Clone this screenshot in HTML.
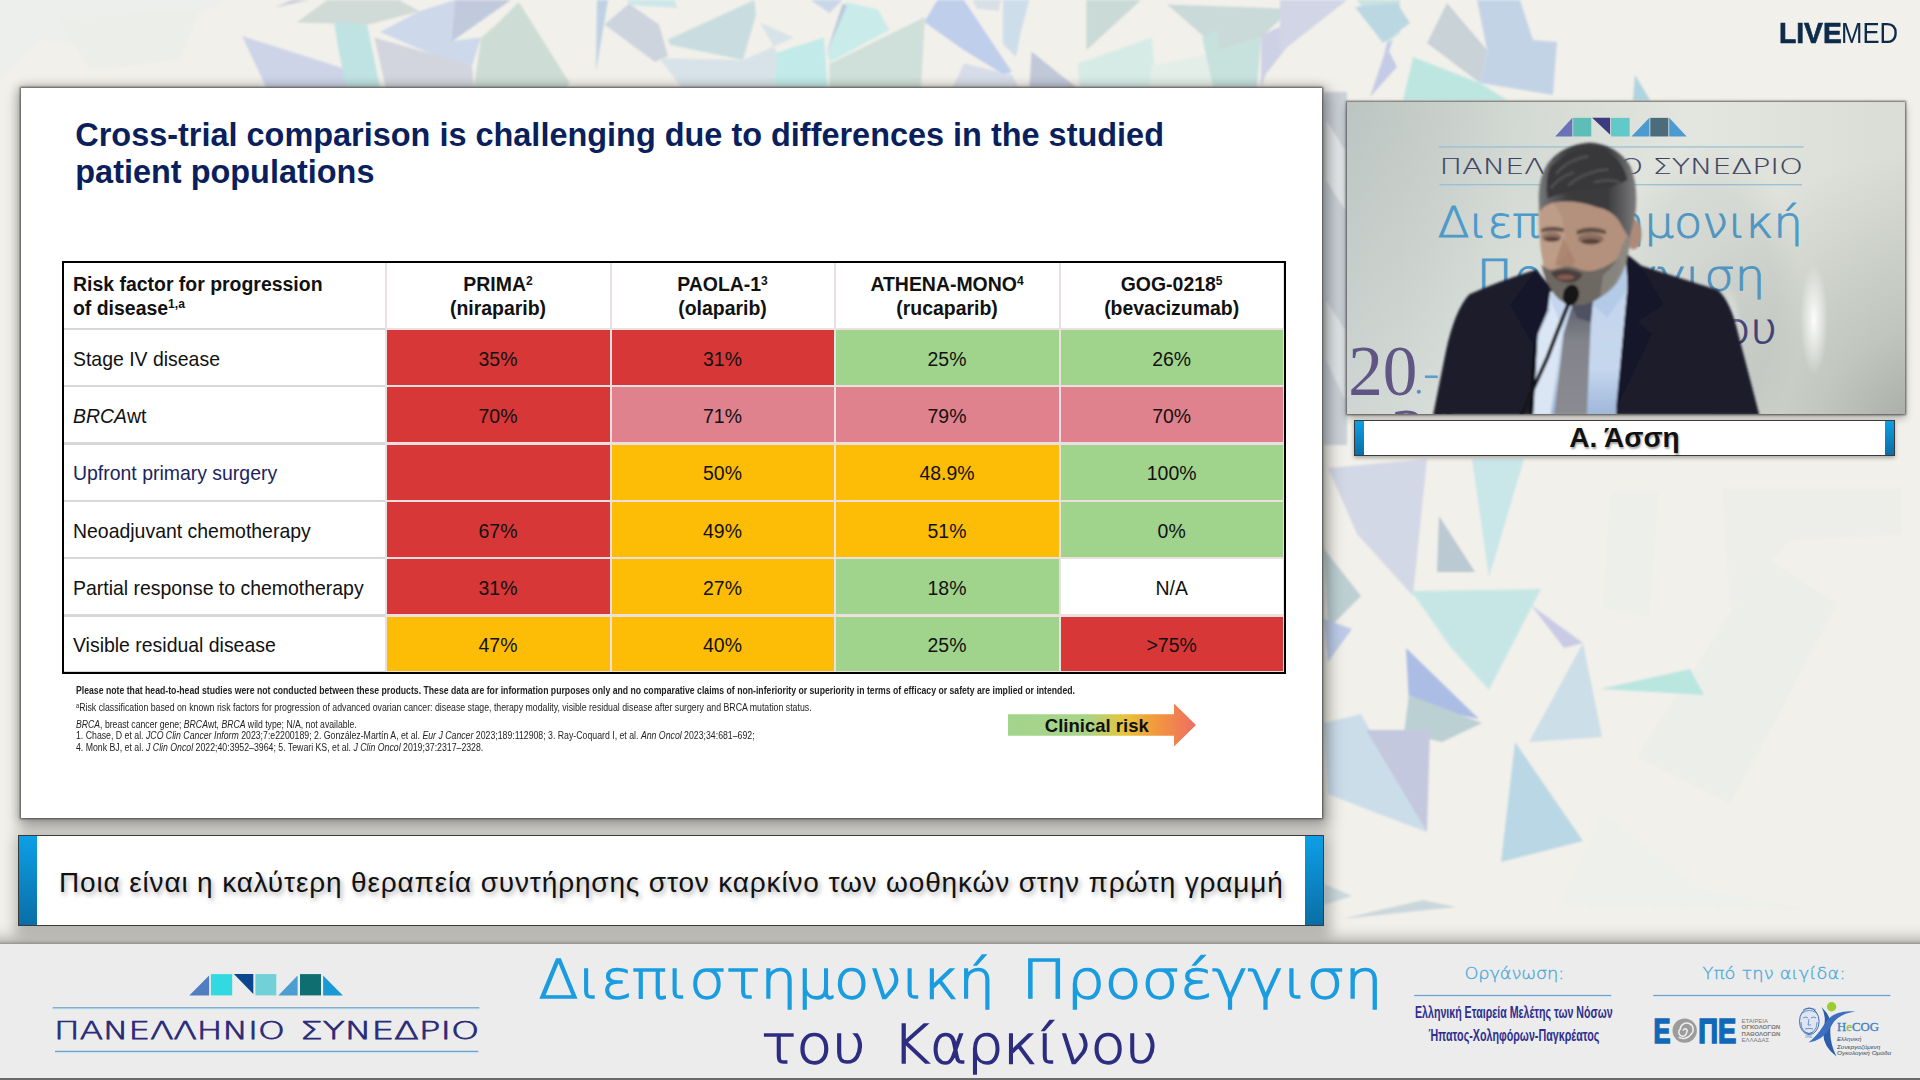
<!DOCTYPE html>
<html lang="el">
<head>
<meta charset="utf-8">
<title>LiveMed</title>
<style>
*{box-sizing:border-box;margin:0;padding:0}
html,body{width:1920px;height:1080px;overflow:hidden}
body{position:relative;background:#f2f0ea;font-family:"Liberation Sans",sans-serif;color:#000}
.abs{position:absolute}
#bg{position:absolute;left:0;top:0;width:1920px;height:1080px}
#slide{position:absolute;left:20.7px;top:88px;width:1301px;height:730px;background:#fff;box-shadow:0 0 2px 1px rgba(40,40,40,.7),0 0 9px 2px rgba(0,0,0,.2),3px 8px 14px 5px rgba(0,0,0,.28)}
#slide>*{margin-left:-.7px}
#fnotes{position:absolute;left:0;top:0;width:100%;height:100%}
#stitle{position:absolute;left:55.3px;top:29.4px;font-weight:bold;font-size:32.45px;line-height:37px;color:#0a1f5c;white-space:nowrap}
#tbl{position:absolute;left:42px;top:173px;width:1224px;height:413px;border:2.5px solid #000;background:linear-gradient(90deg,#d8d8d8 0,#d8d8d8 321.5px,#ecdfdf 321.5px)}
.c{position:absolute;display:flex;align-items:center;justify-content:center;padding-top:3.6px;font-size:19.45px;color:#111;background:#fff;white-space:nowrap}
.l{justify-content:flex-start;padding-left:9px}
.h{font-weight:bold;text-align:center;line-height:23.7px;padding-top:3.4px}
.hl{text-align:left}
.R{background:#d73737}.P{background:#e0818e}.Y{background:#fdbd07}.G{background:#a0d48c}
sup{font-size:62%;line-height:0;vertical-align:baseline;position:relative;top:-.55em}
.fn{position:absolute;left:56px;font-size:10px;line-height:11px;white-space:nowrap;transform-origin:0 50%;color:#222}
#tbar{position:absolute;left:18px;top:835px;width:1306px;height:91px;background:#fff;border:1px solid #3a3a3a;box-shadow:2px 6px 12px 5px rgba(0,0,0,.24)}
#tbar .bl{position:absolute;left:0;top:0;width:18px;height:89px;background:linear-gradient(#0d9fe6,#0a6ea6)}
#tbar .br{position:absolute;right:0;top:0;width:18px;height:89px;background:linear-gradient(#0d9fe6,#0a6ea6)}
#tbar .t{position:absolute;left:40px;top:29.6px;font-size:28px;line-height:34px;letter-spacing:.84px;white-space:nowrap;color:#111;text-shadow:2px 3px 5px rgba(0,0,0,.33)}
#footer{position:absolute;left:-30px;top:944px;width:1980px;height:136px;background:#ececec;box-shadow:0 -1px 3px rgba(0,0,0,.25),0 -5px 14px rgba(0,0,0,.3);border-bottom:2px solid #6a6a6a}
#video{position:absolute;left:1347px;top:102px;width:557.5px;height:312px;box-shadow:0 0 2px 1px rgba(40,40,40,.7),0 4px 8px rgba(0,0,0,.3);overflow:hidden;background:#e6eae6}
#nbar{position:absolute;left:1354px;top:420px;width:541px;height:36px;background:#fff;border:1px solid #3a3a3a;box-shadow:0 2px 4px rgba(0,0,0,.3)}
#nbar .bl{position:absolute;left:0;top:0;width:9px;height:34px;background:linear-gradient(#0d9fe6,#0a6ea6)}
#nbar .br{position:absolute;right:0;top:0;width:9px;height:34px;background:linear-gradient(#0d9fe6,#0a6ea6)}
#nbar .t{position:absolute;left:0;width:100%;top:1.5px;text-align:center;font-weight:bold;font-size:28px;line-height:30px;color:#111;text-shadow:1px 2px 2px rgba(0,0,0,.35)}
#livemed{position:absolute;left:0;top:17.3px;font-size:29.4px;line-height:32px;color:#0d2b4a;white-space:nowrap}
#livemed b{position:absolute;left:1779.4px;top:0;font-weight:bold;-webkit-text-stroke:.7px #0d2b4a;transform:scaleX(.96);transform-origin:0 50%}
#livemed span{position:absolute;left:1840.6px;top:0;transform:scaleX(.874);transform-origin:0 50%}
</style>
</head>
<body>
<svg id="bg" viewBox="0 0 1920 1080">
<defs><filter id="bgb" x="-5%" y="-5%" width="110%" height="110%"><feGaussianBlur stdDeviation="1.2"/></filter></defs>
<g filter="url(#bgb)" opacity=".9">
<polygon points="1611,493 1658,493 1649.5,616 1602.6,608" fill="#ecefea"/>
<polygon points="1722,488.5 1901,488.5 1901,535 1790,540 1730,608" fill="#ededea"/>
<polygon points="1700.6,659 1764.5,556.7 1837,603.6 1777,718.6 1730,803.8 1636.7,757" fill="#eceeea"/>
<polygon points="1602.6,812 1700.6,889 1815.7,910 1560,906" fill="#edf0ec"/>
<polygon points="0,0 230,0 120,50 40,40 0,80" fill="#ecefec"/>
<polygon points="60,20 200,10 180,60 90,70" fill="#eceeea"/>
<polygon points="242,36 266,87 380,87 341,67.5" fill="#c9d2e8"/>
<polygon points="296.6,22.5 327.5,0 399,0 419.4,11.3 369,24.4" fill="#cdd8d4"/>
<polygon points="275,7.5 292,0 309,0" fill="#c5ccd8"/>
<polygon points="334,21.6 367,24.4 380,87 346.3,87 338,47" fill="#b9e2e2"/>
<polygon points="380,32 419.4,11.3 455,0 451,41 481,37.5 472,65.6 436,56" fill="#c9d6ec"/>
<polygon points="374.4,37.5 472,65.6 474,87 385.6,87" fill="#cfd3dc"/>
<polygon points="455,0 511,0 451,42" fill="#bcc6dc"/>
<polygon points="518.8,1.9 569.4,82.5 567.5,87 474,87 481.3,37.5 496.3,24.4" fill="#c9dbd3"/>
<polygon points="597,0 608,0 596,71" fill="#b9cfe4"/>
<polygon points="627,0 674,0 677.5,8 629,5" fill="#c9e6ea"/>
<polygon points="604.4,24.4 629,3.8 659,24.4 668,56 655,62" fill="#c9d1dd"/>
<polygon points="668,39.4 754.4,0 756,15 743,60 670,45" fill="#c5dce0"/>
<polygon points="659,58 743,60 794,37.5 760,22.5 777,52.5 777,87 681,87" fill="#d5e2e8"/>
<polygon points="777,52.5 824,37.5 827.5,87 775,87" fill="#bdeae8"/>
<polygon points="810.6,0 842.5,0 829.4,13" fill="#c5d5e8"/>
<polygon points="827.5,54 846,2 878,9.4 889.4,30 830,62" fill="#c5ebea"/>
<polygon points="842.5,3.8 847,5.6 825.6,56" fill="#b5c5dc"/>
<polygon points="829.4,63.8 925,17 921,87 829.4,87" fill="#cbdfd8"/>
<polygon points="963.8,63.4 1012,74.4 1018.4,87 952.8,87" fill="#d5dce8"/>
<polygon points="924.4,21.9 937.5,0 963.8,0 1011.9,72 1003,74 963.8,50" fill="#b9cbec"/>
<polygon points="972.5,0 1001,0 998.8,11 977,8.8" fill="#d5dfe6"/>
<polygon points="1003,0 1029.4,0 1020.6,32.8 1016,57 1003,43.8" fill="#c9dcea"/>
<polygon points="1031.6,51.4 1060,74.4 1076,87 1029.4,87" fill="#bcc5d8"/>
<polygon points="1086.3,0 1141,0 1086.3,50.3" fill="#c5d8d6"/>
<polygon points="1077.5,63.4 1151.9,37.2 1156.3,87 1079.7,87" fill="#d5ebe6"/>
<polygon points="1151.9,65.6 1217.5,52.5 1213,87 1149.7,87" fill="#e3eee8"/>
<polygon points="1167.2,4.4 1291.9,8.8 1261.3,37.2 1219.7,50.3 1202.2,35" fill="#c5d8d8"/>
<polygon points="1202.2,37.2 1217.5,28.4 1219.7,50.3 1261.3,37.2 1256.9,87 1213,87" fill="#c3e0dc"/>
<polygon points="1261.3,35 1340,0 1313.8,13 1265.6,74.4 1261,87" fill="#cacee6"/>
<polygon points="1280,0 1347,0 1280,53" fill="#cfd3e6"/>
<polygon points="1357,0 1400,0 1400,33 1387,43" fill="#c5e0e0"/>
<polygon points="1387,43 1393,40 1377,83" fill="#c0c8e8"/>
<polygon points="1355,7 1397,3 1410,23 1383,43" fill="#b5d5e2"/>
<polygon points="1447,3 1487,50 1480,83 1427,43" fill="#c5cfd6"/>
<polygon points="1477,0 1520,0 1533,40 1557,42 1553,95 1480,83 1487,50" fill="#bfd0e6"/>
<polygon points="1413,57 1480,83 1507,100 1403,100" fill="#b8e6e0"/>
<polygon points="1387,47 1397,67 1370,97 1380,67" fill="#c0c8e6"/>
<polygon points="1635,75 1650,100 1633,100" fill="#a8d0de"/>
<polygon points="1328,468 1427,459 1413,596 1357,534" fill="#d0d6e6"/>
<polygon points="1472,459 1524,459 1489,577" fill="#c5e5e8"/>
<polygon points="1439,516 1475,572 1437,572" fill="#b5c5d0"/>
<polygon points="1411,591 1541,589 1489,690 1451,648" fill="#c2e6e6"/>
<polygon points="1531,605 1583,643 1564,648" fill="#c5c8e4"/>
<polygon points="1583,643 1602,737 1529,742" fill="#c8dde8"/>
<polygon points="1600,689 1690,669 1704,695" fill="#b5e5e0"/>
<polygon points="1406,648 1479,719 1409,704" fill="#a5b8e5"/>
<polygon points="1409,695 1482,723 1442,742 1404,733" fill="#b5cdd0"/>
<polygon points="1324,723 1361,714 1427,832 1376,813 1328,794" fill="#c8dcea"/>
<polygon points="1366,730 1430,730 1427,832" fill="#c0c4de"/>
<polygon points="1515,742 1583,841 1501,862" fill="#b5d5e5"/>
<polygon points="1324,549 1361,596 1328,629" fill="#b8ccd0"/>
<polygon points="1324,619 1352,629 1328,662" fill="#b8c8e8"/>
<polygon points="1342,919 1423,900 1456,907" fill="#c5d5dc"/>
<polygon points="1324,884 1352,896 1324,905" fill="#c5d8dc"/>
<polygon points="1324,92 1347,92 1347,445 1324,445" fill="#c6ced6"/>
<polygon points="1326,120 1345,150 1345,210 1326,180" fill="#e4e8ea"/>
<polygon points="1326,300 1345,330 1345,400 1326,360" fill="#dfe4e8"/>
</g></svg>
<div id="slide">
  <div id="stitle">Cross-trial comparison is challenging due to differences in the studied<br>patient populations</div>
  <div id="tbl">
<div class="c h l hl" style="left:0px;top:0px;width:320.5px;height:64.8px"><span>Risk factor for progression<br>of disease<sup>1,a</sup></span></div>
<div class="c h" style="left:322.5px;top:0px;width:223.0px;height:64.8px"><span>PRIMA<sup>2</sup><br>(niraparib)</span></div>
<div class="c h" style="left:547.5px;top:0px;width:222.0px;height:64.8px"><span>PAOLA-1<sup>3</sup><br>(olaparib)</span></div>
<div class="c h" style="left:771.5px;top:0px;width:223.0px;height:64.8px"><span>ATHENA-MONO<sup>4</sup><br>(rucaparib)</span></div>
<div class="c h" style="left:996.5px;top:0px;width:222.3px;height:64.8px"><span>GOG-0218<sup>5</sup><br>(bevacizumab)</span></div>
<div class="c l" style="left:0px;top:66.8px;width:320.5px;height:55.0px">Stage IV disease</div>
<div class="c R" style="left:322.5px;top:66.8px;width:223.0px;height:55.0px">35%</div>
<div class="c R" style="left:547.5px;top:66.8px;width:222.0px;height:55.0px">31%</div>
<div class="c G" style="left:771.5px;top:66.8px;width:223.0px;height:55.0px">25%</div>
<div class="c G" style="left:996.5px;top:66.8px;width:222.3px;height:55.0px">26%</div>
<div class="c l" style="left:0px;top:124.1px;width:320.5px;height:55.1px"><i>BRCA</i>wt</div>
<div class="c R" style="left:322.5px;top:124.1px;width:223.0px;height:55.1px">70%</div>
<div class="c P" style="left:547.5px;top:124.1px;width:222.0px;height:55.1px">71%</div>
<div class="c P" style="left:771.5px;top:124.1px;width:223.0px;height:55.1px">79%</div>
<div class="c P" style="left:996.5px;top:124.1px;width:222.3px;height:55.1px">70%</div>
<div class="c l" style="left:0px;top:181.5px;width:320.5px;height:55.3px"><span style="color:#1a2560">Upfront primary surgery</span></div>
<div class="c R" style="left:322.5px;top:181.5px;width:223.0px;height:55.3px"></div>
<div class="c Y" style="left:547.5px;top:181.5px;width:222.0px;height:55.3px">50%</div>
<div class="c Y" style="left:771.5px;top:181.5px;width:223.0px;height:55.3px">48.9%</div>
<div class="c G" style="left:996.5px;top:181.5px;width:222.3px;height:55.3px">100%</div>
<div class="c l" style="left:0px;top:238.8px;width:320.5px;height:55.0px">Neoadjuvant chemotherapy</div>
<div class="c R" style="left:322.5px;top:238.8px;width:223.0px;height:55.0px">67%</div>
<div class="c Y" style="left:547.5px;top:238.8px;width:222.0px;height:55.0px">49%</div>
<div class="c Y" style="left:771.5px;top:238.8px;width:223.0px;height:55.0px">51%</div>
<div class="c G" style="left:996.5px;top:238.8px;width:222.3px;height:55.0px">0%</div>
<div class="c l" style="left:0px;top:296.1px;width:320.5px;height:55.4px">Partial response to chemotherapy</div>
<div class="c R" style="left:322.5px;top:296.1px;width:223.0px;height:55.4px">31%</div>
<div class="c Y" style="left:547.5px;top:296.1px;width:222.0px;height:55.4px">27%</div>
<div class="c G" style="left:771.5px;top:296.1px;width:223.0px;height:55.4px">18%</div>
<div class="c " style="left:996.5px;top:296.1px;width:222.3px;height:55.4px">N/A</div>
<div class="c l" style="left:0px;top:353.5px;width:320.5px;height:54.3px">Visible residual disease</div>
<div class="c Y" style="left:322.5px;top:353.5px;width:223.0px;height:54.3px">47%</div>
<div class="c Y" style="left:547.5px;top:353.5px;width:222.0px;height:54.3px">40%</div>
<div class="c G" style="left:771.5px;top:353.5px;width:223.0px;height:54.3px">25%</div>
<div class="c R" style="left:996.5px;top:353.5px;width:222.3px;height:54.3px">&gt;75%</div>  </div>
  <div id="fnotes">
    <div class="fn" style="top:597px;font-weight:bold;transform:scaleX(.8685)">Please note that head-to-head studies were not conducted between these products. These data are for information purposes only and no comparative claims of non-inferiority or superiority in terms of efficacy or safety are implied or intended.</div>
    <div class="fn" style="top:611.6px;transform:scaleX(.8757)"><span style="font-size:6.5px;vertical-align:3px">a</span>Risk classification based on known risk factors for progression of advanced ovarian cancer: disease stage, therapy modality, visible residual disease after surgery and BRCA mutation status.</div>
    <div class="fn" style="top:630.5px;transform:scaleX(.866)"><i>BRCA</i>, breast cancer gene; <i>BRCA</i>wt, <i>BRCA</i> wild type; N/A, not available.</div>
    <div class="fn" style="top:642px;transform:scaleX(.874)">1. Chase, D et al. <i>JCO Clin Cancer Inform</i> 2023;7:e2200189; 2. González-Martín A, et al. <i>Eur J Cancer</i> 2023;189:112908; 3. Ray-Coquard I, et al. <i>Ann Oncol</i> 2023;34:681–692;</div>
    <div class="fn" style="top:653.5px;transform:scaleX(.8746)">4. Monk BJ, et al. <i>J Clin Oncol</i> 2022;40:3952–3964; 5. Tewari KS, et al. <i>J Clin Oncol</i> 2019;37:2317–2328.</div>
    <svg class="abs" style="left:980px;top:610px" width="210" height="56" viewBox="980 610 210 56">
      <defs><linearGradient id="ag" x1="0" x2="1" y1="0" y2="0"><stop offset="0" stop-color="#a3d48d"/><stop offset=".42" stop-color="#a8d486"/><stop offset=".62" stop-color="#e6c53a"/><stop offset=".78" stop-color="#f29a3c"/><stop offset="1" stop-color="#ee6d63"/></linearGradient></defs>
      <polygon points="988,626.2 1154,626.2 1154,615.5 1176,637 1154,658.4 1154,647.8 988,647.8" fill="url(#ag)"/>
      <text x="1076.8" y="643.6" text-anchor="middle" font-family="Liberation Sans, sans-serif" font-weight="bold" font-size="18.5" fill="#111">Clinical risk</text>
    </svg>
  </div>
</div>
<div id="video">
<svg width="558" height="314" viewBox="0 0 1919 1080" preserveAspectRatio="none" style="position:absolute;left:0;top:-1px">
  <defs>
    <linearGradient id="vbg" x1="0" x2="1" y1="0" y2="0"><stop offset="0" stop-color="#d0d7d4"/><stop offset=".3" stop-color="#e0e4de"/><stop offset=".62" stop-color="#e3e6df"/><stop offset="1" stop-color="#d9ddd5"/></linearGradient>
    <radialGradient id="vvg" gradientUnits="userSpaceOnUse" cx="-60" cy="-80" r="1250"><stop offset="0" stop-color="#8a9995" stop-opacity=".32"/><stop offset=".5" stop-color="#8f9c98" stop-opacity=".17"/><stop offset="1" stop-color="#8f9c98" stop-opacity="0"/></radialGradient>
    <radialGradient id="vvg2" gradientUnits="userSpaceOnUse" cx="2000" cy="1180" r="1000"><stop offset="0" stop-color="#6c736f" stop-opacity=".52"/><stop offset=".4" stop-color="#747b77" stop-opacity=".25"/><stop offset="1" stop-color="#747b77" stop-opacity="0"/></radialGradient>
    <radialGradient id="vsh" cx=".5" cy=".5" r=".5"><stop offset="0" stop-color="#6a7478" stop-opacity=".16"/><stop offset=".7" stop-color="#6a7478" stop-opacity=".10"/><stop offset="1" stop-color="#6a7478" stop-opacity="0"/></radialGradient>
    <radialGradient id="vhl" cx=".5" cy=".5" r=".5"><stop offset="0" stop-color="#fff" stop-opacity=".95"/><stop offset="1" stop-color="#fff" stop-opacity="0"/></radialGradient>
    <linearGradient id="hairg" x1="0" x2="1" y1="0" y2="0"><stop offset="0" stop-color="#77787a"/><stop offset=".3" stop-color="#3c3c3f"/><stop offset=".7" stop-color="#3a3a3d"/><stop offset="1" stop-color="#7d7d7e"/></linearGradient>
    <linearGradient id="tieg" x1="0" x2="0" y1="0" y2="1"><stop offset="0" stop-color="#5a5d6c"/><stop offset=".35" stop-color="#83848b"/><stop offset="1" stop-color="#8b8c92"/></linearGradient>
    <linearGradient id="shg" x1="0" x2="0" y1="0" y2="1"><stop offset="0" stop-color="#c3d4ec"/><stop offset=".7" stop-color="#c6d8ee"/><stop offset="1" stop-color="#9fb7da"/></linearGradient>
    <filter id="b6"><feGaussianBlur stdDeviation="6"/></filter>
    <filter id="b3"><feGaussianBlur stdDeviation="3"/></filter>
    <filter id="b20"><feGaussianBlur stdDeviation="22"/></filter>
  </defs>
  <rect width="1919" height="1080" fill="url(#vbg)"/>
  <rect width="1919" height="1080" fill="url(#vvg)"/>
  <rect width="1919" height="1080" fill="url(#vvg2)"/>
  
  <!-- logo row -->
  <polygon points="716,122 775,58 775,122" fill="#6a72b8"/>
  <rect x="778" y="58" width="62" height="64" fill="#5cbeb6"/>
  <polygon points="843,58 905,58 905,116" fill="#3b3b82"/>
  <rect x="908" y="58" width="64" height="64" fill="#62c9c9"/>
  <polygon points="978,122 1040,58 1040,122" fill="#4b9bd0"/>
  <rect x="1043" y="58" width="62" height="64" fill="#4c6c7c"/>
  <polygon points="1108,58 1168,122 1108,122" fill="#4b9bd0"/>
  <rect x="315" y="156" width="1255" height="4" fill="#93bdd2"/>
  <rect x="318" y="286" width="1247" height="4" fill="#93bdd2"/>
  <g font-family="'DejaVu Sans Light','DejaVu Sans',sans-serif" font-weight="200">
    <text x="318" y="250" font-size="72" textLength="1250" lengthAdjust="spacingAndGlyphs" fill="#3b4262" stroke="#3b4262" stroke-width=".6">ΠΑΝΕΛΛΗΝΙΟ ΣΥΝΕΔΡΙΟ</text>
    <text x="312" y="467" font-size="144" textLength="1256" lengthAdjust="spacingAndGlyphs" fill="#4c9aca" stroke="#4c9aca" stroke-width="3">Διεπιστημονική</text>
    <text x="445" y="650" font-size="144" textLength="993" lengthAdjust="spacingAndGlyphs" fill="#4c9aca" stroke="#4c9aca" stroke-width="3">Προσέγγιση</text>
    <text x="400" y="832" font-size="144" textLength="1080" lengthAdjust="spacingAndGlyphs" fill="#3c3b74" stroke="#3c3b74" stroke-width="3">του Καρκίνου</text>
  </g>
  <text x="4" y="1010" font-family="'Liberation Serif',serif" font-size="246" fill="#564c7e" textLength="238" lengthAdjust="spacingAndGlyphs" opacity=".92">20</text>
  <circle cx="247" cy="1000" r="7" fill="#5a8fc4"/>
  <rect x="268" y="944" width="44" height="9" fill="#5a9fcc"/>
  <text x="150" y="1229" font-family="'Liberation Serif',serif" font-size="246" fill="#564c7e" opacity=".92">20</text>
  <!-- body shadow on wall -->
  <ellipse cx="1240" cy="700" rx="330" ry="560" fill="url(#vsh)"/>
  <!-- highlight -->
  <ellipse cx="1606" cy="752" rx="48" ry="190" fill="url(#vhl)"/>
  <ellipse cx="1310" cy="780" rx="50" ry="150" fill="url(#vhl)" opacity=".6"/>

  <!-- person -->
  <g filter="url(#b3)">
    <!-- suit -->
    <path d="M296,1080 L340,860 Q370,720 420,665 Q520,620 650,580 L700,640 L960,525 L1010,565 Q1150,610 1275,650 Q1320,690 1345,800 L1418,1080 Z" fill="#1d1e2c"/>
    <!-- shirt -->
    <path d="M690,660 L960,545 L965,640 L950,800 L925,1080 L640,1080 L655,800 Z" fill="url(#shg)"/>
    <path d="M690,660 L700,720 L660,800 L640,1080 L700,1080 L740,780 Z" fill="#dbe6f4"/>
    <!-- collar -->
    <path d="M835,690 L955,560 L962,650 L895,745 Z" fill="#b4cbe8"/>
    <!-- tie -->
    <path d="M775,700 L845,690 L838,770 L825,1080 L712,1080 L745,800 Z" fill="url(#tieg)"/>
    <path d="M775,700 L845,690 L838,760 L790,745 Z" fill="#4e5162"/>
    <!-- lapels -->
    <path d="M650,580 L700,640 L690,720 L640,840 L560,700 Z" fill="#17182a"/>
    <path d="M960,525 L1010,565 L1090,700 L1000,760 L1050,800 L925,1060 L950,800 L965,640 Z" fill="#171829"/>
    <path d="M640,840 L625,1080 L640,1080 L655,800 Z" fill="#11121c"/>
    <!-- neck -->
    <path d="M700,600 L950,540 L960,560 L840,690 L760,700 Z" fill="#a98571"/>
    <!-- ear -->
    <ellipse cx="985" cy="458" rx="28" ry="52" fill="#b08a78"/>
    <!-- face -->
    <path d="M662,330 Q655,430 668,520 Q680,610 720,670 Q760,705 810,700 Q880,680 930,610 Q975,520 980,400 L975,300 Q820,240 680,290 Z" fill="#b3917d"/>
    <path d="M662,330 Q655,430 668,520 Q676,560 690,600 L760,520 L740,400 L700,330 Z" fill="#bf9f8b" opacity=".8"/>
    <!-- eyes/brows -->
    <path d="M668,440 Q700,425 745,438 L745,450 Q700,445 668,452 Z" fill="#4a3a34" opacity=".75"/>
    <path d="M790,445 Q840,425 890,445 L890,458 Q840,445 790,460 Z" fill="#4a3a34" opacity=".75"/>
    <ellipse cx="703" cy="468" rx="34" ry="16" fill="#6a5045" opacity=".55"/>
    <ellipse cx="705" cy="475" rx="26" ry="8" fill="#4a362e" opacity=".8"/>
    <ellipse cx="838" cy="474" rx="44" ry="18" fill="#6a5045" opacity=".55"/>
    <ellipse cx="838" cy="483" rx="32" ry="9" fill="#4a362e" opacity=".8"/>
    <path d="M745,470 L715,560 L760,575 L785,555 Z" fill="#a67f6a" opacity=".7"/>
    <!-- beard -->
    <path d="M668,560 Q690,590 730,575 Q760,560 800,580 Q860,600 935,540 Q945,600 900,650 Q850,700 800,702 Q740,705 710,660 Q680,620 668,560 Z" fill="#6e6862"/>
    <path d="M700,590 Q750,565 810,595 Q800,625 760,625 Q720,622 700,590 Z" fill="#4a403c"/>
    <ellipse cx="752" cy="606" rx="30" ry="9" fill="#8a5a55"/>
    <path d="M880,600 Q930,560 945,500 L975,440 Q975,560 925,630 Q900,660 870,675 Z" fill="#8a8782" opacity=".9"/>
    <!-- hair -->
    <path d="M660,345 Q655,270 690,215 Q740,150 835,143 Q930,150 975,225 Q1005,300 990,400 L972,470 Q955,450 935,410 Q905,372 860,365 Q780,335 705,350 Q678,358 662,380 Z" fill="url(#hairg)"/>
    <path d="M700,225 Q770,160 860,160 Q940,180 965,270 Q920,300 840,300 Q760,305 690,335 Q680,270 700,225 Z" fill="#38383a"/>
    <path d="M720,250 Q760,200 830,190 M760,290 Q820,240 900,235 M700,300 Q730,260 780,245 M850,280 Q900,265 940,280" stroke="#5c5c5c" stroke-width="9" fill="none" opacity=".7"/>
    <!-- mic -->
    <path d="M765,690 Q735,760 690,880 Q640,990 600,1080" stroke="#14141a" stroke-width="13" fill="none" stroke-linecap="round"/>
    <ellipse cx="770" cy="668" rx="27" ry="37" fill="#121216" transform="rotate(15 770 668)"/>
  </g>
</svg>
</div>
<div id="nbar"><div class="bl"></div><div class="br"></div><div class="t">Α. Άσση</div></div>
<div id="livemed"><b>LIVE</b><span>MED</span></div>
<div id="tbar"><div class="bl"></div><div class="br"></div><div class="t">Ποια είναι η καλύτερη θεραπεία συντήρησης στον καρκίνο των ωοθηκών στην πρώτη γραμμή</div></div>
<div id="footer"></div>
<svg class="abs" style="left:0;top:944px" width="1920" height="136" viewBox="0 944 1920 136">
  <!-- left logo -->
  <polygon points="189.3,995.4 209.1,975.6 209.1,995.4" fill="#4f7fc0"/>
  <rect x="210.9" y="974.1" width="21.3" height="21.3" fill="#33d9e0"/>
  <polygon points="233.9,974.1 253.3,974.1 253.3,993.9" fill="#0a4590"/>
  <rect x="255.4" y="974.1" width="20.9" height="21.3" fill="#72d0d8"/>
  <polygon points="278.3,995.4 297.6,975.6 297.6,995.4" fill="#4a9fd0"/>
  <rect x="300" y="974.1" width="21" height="21.3" fill="#0f6f70"/>
  <polygon points="323.1,975.6 342.9,995.4 323.1,995.4" fill="#1a9ad5"/>
  <rect x="52.7" y="1007.2" width="426.6" height="1.4" fill="#6f9fc6"/><rect x="52.7" y="1008.6" width="426.6" height="1" fill="#c5ecfb"/>
  <rect x="55" y="1050.8" width="423.3" height="1.4" fill="#6f9fc6"/><rect x="55" y="1052.2" width="423.3" height="1" fill="#c5ecfb"/>
  <g font-family="'DejaVu Sans Light','DejaVu Sans',sans-serif" font-weight="200">
    <g font-size="24.3" fill="#2a2a78" stroke="#2a2a78" stroke-width=".75">
      <text x="54" y="1039.4" textLength="231" lengthAdjust="spacingAndGlyphs">ΠΑΝΕΛΛΗΝΙΟ</text>
      <text x="300" y="1039.4" textLength="179.3" lengthAdjust="spacingAndGlyphs">ΣΥΝΕΔΡΙΟ</text>
    </g>
    <g font-size="53.4" fill="#1a9ce0" stroke="#1a9ce0" stroke-width="1.4">
      <text x="538.8" y="997.8" textLength="456.2" lengthAdjust="spacingAndGlyphs">Διεπιστημονική</text>
      <text x="1021.6" y="997.8" textLength="361" lengthAdjust="spacingAndGlyphs">Προσέγγιση</text>
    </g>
    <g font-size="53.4" fill="#2d2d80" stroke="#2d2d80" stroke-width="1.4">
      <text x="761.3" y="1062.5" textLength="104.6" lengthAdjust="spacingAndGlyphs">του</text>
      <text x="892.5" y="1062.5" textLength="266" lengthAdjust="spacingAndGlyphs">Καρκίνου</text>
    </g>
    <text transform="translate(1464.4,979.4) scale(1.15,1)" font-size="15.5" textLength="86.8" lengthAdjust="spacing" fill="#4aa8dc" stroke="#4aa8dc" stroke-width=".3">Οργάνωση:</text>
    <text transform="translate(1702.6,979.4) scale(1.15,1)" font-size="15.5" textLength="124.2" lengthAdjust="spacing" fill="#4aa8dc" stroke="#4aa8dc" stroke-width=".3">Υπό την αιγίδα:</text>
  </g>
  <rect x="1414.3" y="994.9" width="196.9" height="1.3" fill="#6f9fc6"/><rect x="1414.3" y="996.2" width="196.9" height="1" fill="#d3e8fb"/>
  <rect x="1653.3" y="994.9" width="237.1" height="1.3" fill="#6f9fc6"/><rect x="1653.3" y="996.2" width="237.1" height="1" fill="#d3e8fb"/>
  <g font-family="'Liberation Sans',sans-serif" font-weight="bold" fill="#2e2e8e">
    <text x="1415" y="1018.3" font-size="16" textLength="197.6" lengthAdjust="spacingAndGlyphs">Ελληνική Εταιρεία Μελέτης των Νόσων</text>
    <text x="1428.4" y="1040.5" font-size="16" textLength="171" lengthAdjust="spacingAndGlyphs">Ήπατος-Χοληφόρων-Παγκρέατος</text>
  </g>
  <!-- EOPE -->
  <g font-family="'Liberation Sans',sans-serif" font-weight="bold" fill="#1268b8" stroke="#1268b8" stroke-width="1.6" font-size="34.6">
    <text x="1653.5" y="1042.6" textLength="17" lengthAdjust="spacingAndGlyphs">Ε</text>
    <text x="1698.2" y="1042.6" textLength="38" lengthAdjust="spacingAndGlyphs">ΠΕ</text>
  </g>
  <circle cx="1684.7" cy="1030.6" r="12.2" fill="#9c9c9c"/>
  <path d="M1684.7,1030.6 m-1.5,0 a2,2 0 1 1 3.5,1.5 a4,4 0 1 1 -6.5,-3 a6.5,6.5 0 1 1 10.5,5.5 a9,9 0 0 1 -12,2.5" fill="none" stroke="#f0f0f0" stroke-width="1.5"/>
  <g font-family="'Liberation Sans',sans-serif" fill="#7a7a7a" font-size="6.2">
    <text x="1741.6" y="1023.2" textLength="26.4" lengthAdjust="spacingAndGlyphs">ΕΤΑΙΡΕΙΑ</text>
    <text x="1741.6" y="1029.4" textLength="38.6" lengthAdjust="spacingAndGlyphs" font-weight="bold">ΟΓΚΟΛΟΓΩΝ</text>
    <text x="1741.6" y="1035.6" textLength="38.6" lengthAdjust="spacingAndGlyphs" font-weight="bold">ΠΑΘΟΛΟΓΩΝ</text>
    <text x="1741.6" y="1042.2" textLength="27.7" lengthAdjust="spacingAndGlyphs">ΕΛΛΑΔΑΣ</text>
  </g>
  <!-- HeCOG -->
  <ellipse cx="1809.3" cy="1021.4" rx="9.8" ry="13.2" fill="#dfe6f2" stroke="#3f6cb4" stroke-width="1"/>
  <path d="M1803,1018 q3,-2 5,0 M1811,1018 q3,-2 5,0 M1809,1019 l-1,6 l3,0 M1805,1029 q4,-1.5 8,0 M1802,1013 q7,-5 15,0 M1803,1010 q6,-4 13,0 M1804,1031 q5,5 10,0 M1801,1022 q0,6 3,9 M1817,1022 q0,6 -3,9 M1805,1032 q4,3 8,0" fill="none" stroke="#3f6cb4" stroke-width=".7"/>
  <text x="1808.6" y="1038.2" font-family="'Liberation Sans',sans-serif" font-size="3.2" fill="#3f6cb4" text-anchor="middle">1990</text>
  <circle cx="1831.6" cy="1006.8" r="4.7" fill="#9dcc2f"/>
  <path d="M1821.5,1007 Q1832,1017 1830.5,1027 Q1829,1042 1836.5,1056.5 Q1820,1044 1824,1026.5 Q1826.5,1016 1821.5,1007 Z" fill="#2b5dab"/>
  <path d="M1855.5,1011.5 Q1837,1014 1831,1026.5 Q1823,1040.5 1808.5,1042.5 Q1817,1036 1823.5,1025.5 Q1832,1009 1855.5,1011.5 Z" fill="#3c6fc0"/>
  <text x="1837" y="1031.2" font-family="'Liberation Serif',serif" font-size="12.4" textLength="42" lengthAdjust="spacingAndGlyphs" fill="#3f7fc4" stroke="#3f7fc4" stroke-width=".3">H<tspan fill="#8cc23f" stroke="#8cc23f">e</tspan>COG</text>
  <g font-family="'Liberation Sans',sans-serif" font-style="italic" font-size="6" fill="#3a4a6a">
    <text x="1837" y="1041.3" textLength="24.4" lengthAdjust="spacingAndGlyphs">Ελληνική</text>
    <text x="1837" y="1048.6" textLength="43.4" lengthAdjust="spacingAndGlyphs">Συνεργαζόμενη</text>
    <text x="1837" y="1054.8" textLength="54.2" lengthAdjust="spacingAndGlyphs">Ογκολογική Ομάδα</text>
  </g>
</svg>
</body>
</html>
